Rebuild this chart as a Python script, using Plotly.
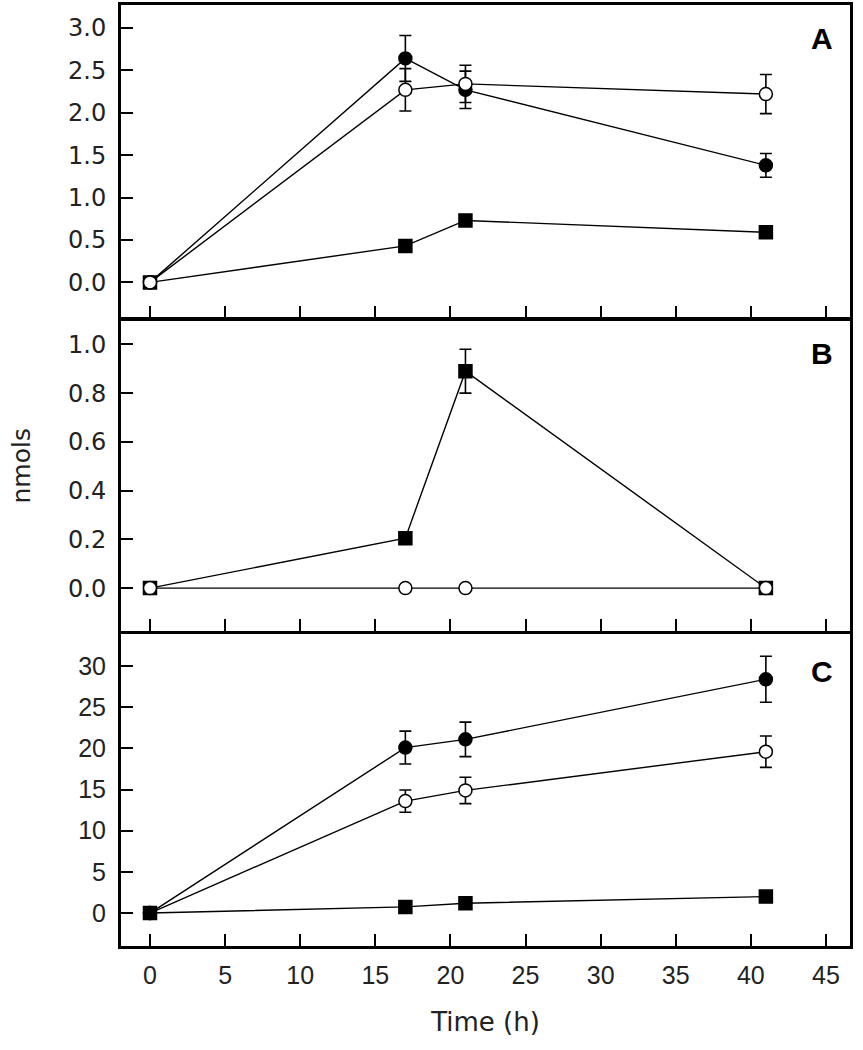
import plotly.graph_objects as go

time = [0, 17, 21, 41]

# Panel A
a_filled = [0.0, 2.64, 2.27, 1.38]
a_filled_err = [0.0, 0.27, 0.22, 0.14]
a_open = [0.0, 2.27, 2.34, 2.22]
a_open_err = [0.0, 0.25, 0.22, 0.23]
a_square = [0.0, 0.43, 0.73, 0.59]

# Panel B
b_open = [0.0, 0.0, 0.0, 0.0]
b_square = [0.0, 0.205, 0.89, 0.0]
b_square_err = [0.0, 0.0, 0.09, 0.0]

# Panel C
c_filled = [0.0, 20.1, 21.1, 28.4]
c_filled_err = [0.0, 2.0, 2.1, 2.8]
c_open = [0.0, 13.6, 14.9, 19.6]
c_open_err = [0.0, 1.35, 1.6, 1.9]
c_square = [0.0, 0.75, 1.2, 2.0]

x_ticks = [0, 5, 10, 15, 20, 25, 30, 35, 40, 45]
panel_labels = ["A", "B", "C"]

FONT = "Liberation Sans, Arial, sans-serif"
WIDE = "DejaVu Sans, Verdana, sans-serif"
TXT = "#222"
BLACK = "black"
MS = 13

fig = go.Figure()


def add(x, y, yaxis, xaxis, symbol, fill, err=None):
    kw = {}
    if err is not None:
        kw["error_y"] = dict(type="data", array=err, visible=True, color=BLACK,
                             thickness=1.6, width=6)
    fig.add_trace(go.Scatter(
        x=x, y=y, xaxis=xaxis, yaxis=yaxis, mode="lines+markers",
        line=dict(color=BLACK, width=1.4),
        marker=dict(symbol=symbol, size=MS, color=fill,
                    line=dict(color=BLACK, width=1.5)),
        showlegend=False, hoverinfo="skip", **kw))


# Panel A (top): squares, filled, open on top
add(time, a_square, "y", "x", "square", BLACK)
add(time, a_filled, "y", "x", "circle", BLACK, a_filled_err)
add(time, a_open, "y", "x", "circle", "white", a_open_err)

# Panel B (middle)
add(time, b_square, "y2", "x2", "square", BLACK, b_square_err)
add(time, b_open, "y2", "x2", "circle", "white")

# Panel C (bottom): squares, open, filled on top
add(time, c_square, "y3", "x3", "square", BLACK)
add(time, c_open, "y3", "x3", "circle", "white", c_open_err)
add(time, c_filled, "y3", "x3", "circle", BLACK, c_filled_err)

font_ab = dict(family=WIDE, size=24, color=TXT)
font_c = dict(family=FONT, size=25, color=TXT)

xcommon = dict(range=[-1.93, 46.6], tickvals=x_ticks, ticks="inside", ticklen=12,
               tickwidth=2.2, tickcolor=BLACK, showline=True, linewidth=3,
               linecolor=BLACK, mirror=True, showgrid=False, zeroline=False,
               tickfont=font_c)
ycommon = dict(ticks="inside", ticklen=12, tickwidth=2.2, tickcolor=BLACK,
               showline=True, linewidth=3, linecolor=BLACK, mirror=True,
               showgrid=False, zeroline=False, ticklabelstandoff=7)

# paper domain (height 944 px: top margin 2, bottom 104)
H = 944.0
dA = [1 - 314 / H, 1.0]
dB = [1 - 628 / H, 1 - 316 / H]
dC = [0.0, 1 - 631 / H]

fig.update_layout(
    width=863, height=1050,
    margin=dict(l=121, r=13, t=2, b=104),
    plot_bgcolor="white", paper_bgcolor="white",
    font=dict(family=FONT, color=TXT),
    xaxis=dict(xcommon, domain=[0, 1], anchor="y", showticklabels=False),
    xaxis2=dict(xcommon, domain=[0, 1], anchor="y2", showticklabels=False),
    xaxis3=dict(xcommon, domain=[0, 1], anchor="y3", ticklabelstandoff=5,
                title=dict(text="Time (h)", font=dict(family=WIDE, size=26, color=TXT),
                           standoff=25)),
    yaxis=dict(ycommon, domain=dA, anchor="x", range=[-0.42, 3.27],
               tickvals=[0, 0.5, 1.0, 1.5, 2.0, 2.5, 3.0], tickformat=".1f",
               tickfont=font_ab),
    yaxis2=dict(ycommon, domain=dB, anchor="x2", range=[-0.176, 1.10],
                tickvals=[0, 0.2, 0.4, 0.6, 0.8, 1.0], tickformat=".1f",
                tickfont=font_ab),
    yaxis3=dict(ycommon, domain=dC, anchor="x3", range=[-4.0, 33.9],
                tickvals=[0, 5, 10, 15, 20, 25, 30], tickfont=font_c),
)

# y-axis title "nmols" centred on the middle panel
fig.add_annotation(text="nmols", xref="paper", yref="paper",
                   x=(22 - 121) / 729, y=1 - (465 - 2) / H, textangle=-90,
                   showarrow=False, xanchor="center", yanchor="middle",
                   font=dict(family=WIDE, size=25, color=TXT))

# panel letters
for lab, dom, off in zip(panel_labels, [dA, dB, dC], [34, 34, 38]):
    fig.add_annotation(text="<b>%s</b>" % lab, xref="paper", yref="paper",
                       x=(822 - 121) / 729, y=dom[1] - off / H,
                       showarrow=False, xanchor="center", yanchor="middle",
                       font=dict(family=FONT, size=30, color=BLACK))

fig.write_html("out.html", config={"displayModeBar": False},
               post_script="document.body.style.margin='0';document.body.style.overflow='hidden';")
